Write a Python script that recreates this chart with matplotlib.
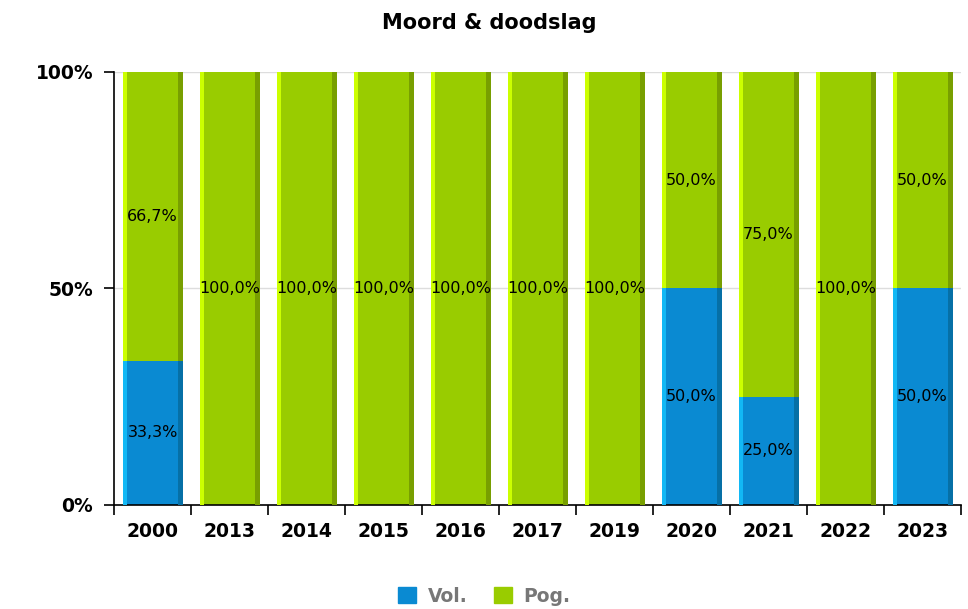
import numpy as np
import matplotlib.pyplot as plt
from matplotlib.patches import Patch

# Datos
jaren = ["2000", "2013", "2014", "2015", "2016", "2017", "2019", "2020", "2021", "2022", "2023"]
vol = [33.3, 0, 0, 0, 0, 0, 0, 50.0, 25.0, 0, 50.0]
pog = [66.7, 100.0, 100.0, 100.0, 100.0, 100.0, 100.0, 50.0, 75.0, 100.0, 50.0]

kleur_vol = "#0a8ad2"
kleur_pog = "#99cc00"
licht_vol = "#12b8f5"
licht_pog = "#ccff00"
donker_vol = "#0670a6"
donker_pog = "#789f00"

fig = plt.figure(figsize=(9.68, 6.09), dpi=100)
ax = fig.add_axes([0.1178, 0.1708, 0.8750, 0.7110])

x = np.arange(len(jaren))
breedte = 0.78
rand = 0.06


def teken_stapel(onder, hoogte, kleur, licht, donker):
    ax.bar(x, hoogte, breedte, bottom=onder, color=kleur, linewidth=0, zorder=2)
    # lichte rand links, donkere rand rechts
    ax.bar(x - breedte / 2 + rand / 2, hoogte, rand, bottom=onder, color=licht,
           linewidth=0, zorder=3)
    ax.bar(x + breedte / 2 - rand / 2, hoogte, rand, bottom=onder, color=donker,
           linewidth=0, zorder=3)


teken_stapel(np.zeros(len(x)), vol, kleur_vol, licht_vol, donker_vol)
teken_stapel(np.array(vol), pog, kleur_pog, licht_pog, donker_pog)

# Labels in de segmenten
for i in range(len(x)):
    if vol[i] > 0:
        ax.text(x[i], vol[i] / 2, f"{vol[i]:.1f}%".replace(".", ","),
                ha="center", va="center", fontsize=11.5, zorder=5)
    if pog[i] > 0:
        ax.text(x[i], vol[i] + pog[i] / 2, f"{pog[i]:.1f}%".replace(".", ","),
                ha="center", va="center", fontsize=11.5, zorder=5)

ax.set_xlim(-0.5, len(x) - 0.5)
ax.set_ylim(0, 100)
ax.set_yticks([0, 50, 100])
ax.set_yticklabels(["0%", "50%", "100%"], fontsize=13.5, fontweight="bold")
ax.yaxis.grid(True, color="#dddddd", linewidth=1, zorder=0)
ax.set_axisbelow(True)

ax.set_xticks(x)
ax.set_xticklabels(jaren, fontsize=13.5, fontweight="bold")
ax.set_xticks(np.arange(len(x) + 1) - 0.5, minor=True)
ax.tick_params(axis="x", which="major", length=0, pad=12)
ax.tick_params(axis="x", which="minor", length=7, direction="out", width=1.2)
ax.tick_params(axis="y", length=7, direction="out", width=1.2, pad=8)

ax.spines["top"].set_visible(False)
ax.spines["right"].set_visible(False)
ax.spines["left"].set_linewidth(1.2)
ax.spines["bottom"].set_linewidth(1.2)

fig.text(0.505, 0.962, "Moord & doodslag", fontsize=15, fontweight="bold",
         ha="center", va="center")

handles = [Patch(color=kleur_vol, label="Vol."), Patch(color=kleur_pog, label="Pog.")]
leg = fig.legend(handles=handles, loc="lower center", ncol=2, frameon=False,
                 bbox_to_anchor=(0.5, -0.022), handlelength=1.0, handleheight=1.0,
                 columnspacing=1.4, handletextpad=0.6,
                 prop={"size": 13.5, "weight": "bold"})
for t in leg.get_texts():
    t.set_color("#777777")

fig.savefig("out.png", dpi=100)
